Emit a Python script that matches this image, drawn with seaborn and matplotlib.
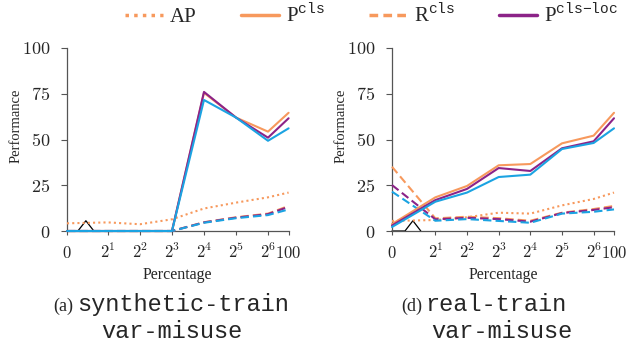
import numpy as np
import matplotlib
matplotlib.use("Agg")
import matplotlib.pyplot as plt
from matplotlib.lines import Line2D
import seaborn as sns

# percentages on the x axis (0 is drawn left of the axis break)
percent = [0, 2, 4, 8, 16, 32, 64, 100]
tick_labels = ["$0$", "$2^{1}$", "$2^{2}$", "$2^{3}$", "$2^{4}$", "$2^{5}$", "$2^{6}$", "$100$"]

# (a) synthetic-train var-misuse
ap_a = [4.2, 4.7, 3.7, 6.4, 12.3, 15.5, 18.4, 21.0]
p_cls_a = [0, 0, 0, 0, 75.5, 62.0, 54.3, 64.6]
r_cls_a = [0, 0, 0, 0, 4.8, 7.5, 9.5, 13.7]
p_loc_a = [0, 0, 0, 0, 76.0, 62.0, 51.0, 61.6]
r_loc_a = [0, 0, 0, 0, 4.7, 7.3, 9.2, 13.2]
# blue series (their legend entries are cut off in the original)
p_blue_a = [0, 0, 0, 0, 71.6, 62.0, 49.3, 56.1]
r_blue_a = [0, 0, 0, 0, 4.5, 7.0, 8.7, 11.8]

# (d) real-train var-misuse
ap_d = [5.5, 6.0, 7.5, 10.0, 9.5, 14.0, 17.5, 21.0]
p_cls_d = [3.8, 18.4, 24.6, 35.9, 36.6, 47.9, 52.1, 64.6]
r_cls_d = [35.1, 6.9, 7.8, 7.0, 5.6, 10.0, 12.0, 13.7]
p_loc_d = [3.0, 16.9, 23.0, 34.4, 32.8, 45.2, 49.0, 61.6]
r_loc_d = [25.1, 6.4, 7.2, 6.5, 5.1, 9.8, 11.5, 13.0]
p_blue_d = [2.2, 16.0, 21.0, 29.5, 30.8, 44.8, 48.1, 56.1]
r_blue_d = [21.5, 5.6, 6.5, 5.5, 4.5, 9.5, 10.5, 11.8]

ORANGE = "#F7995D"
PURPLE = "#8C2388"
BLUE = "#1BA3E2"
DOT = (0, (1, 1.5))
DASH = (0, (4, 2))

sns.set_style("ticks")
plt.rcParams["font.family"] = ["Liberation Serif", "DejaVu Serif"]
plt.rcParams["mathtext.fontset"] = "custom"
plt.rcParams["mathtext.rm"] = "cmr10"
plt.rcParams["mathtext.tt"] = "Liberation Mono"
plt.rcParams["axes.unicode_minus"] = False

fig = plt.figure(figsize=(6.27, 3.48), dpi=100)
W, H = 627, 348


def px_axes(x0, x1, y0, y1):
    return fig.add_axes([x0 / W, 1 - y1 / H, (x1 - x0) / W, (y1 - y0) / H])


ax_a = px_axes(67, 288.6, 48, 231)
ax_d = px_axes(392, 614, 48, 231)


def draw(ax, x_zero, brk, ap, p_cls, r_cls, p_loc, r_loc, p_blue, r_blue):
    xs = np.array([x_zero] + [np.log2(p) for p in percent[1:]])
    # axis break marker
    bx = [x_zero, x_zero + brk, x_zero + brk + 0.25, x_zero + brk + 0.5]
    ax.plot(bx, [0, 0, 5.6, 0], color="black", lw=0.9, clip_on=False, zorder=2)
    series = [
        (ap, ORANGE, DOT),
        (r_cls, ORANGE, DASH),
        (r_loc, PURPLE, DASH),
        (r_blue, BLUE, DASH),
        (p_cls, ORANGE, "-"),
        (p_loc, PURPLE, "-"),
        (p_blue, BLUE, "-"),
    ]
    for ys, col, ls in series:
        sns.lineplot(x=xs, y=ys, color=col, linestyle=ls, lw=1.5,
                     ax=ax, clip_on=False, zorder=3)
    ax.set_xlim(x_zero, np.log2(100))
    ax.set_ylim(0, 100)
    ax.set_xticks(xs)
    ax.set_xticklabels(tick_labels, fontsize=12)
    ax.set_yticks([0, 25, 50, 75, 100])
    ax.set_yticklabels(["$0$", "$25$", "$50$", "$75$", "$100$"], fontsize=13)
    plt.setp(ax.get_xticklabels(), va="baseline")
    ax.tick_params(axis="x", direction="out", length=3, width=0.8,
                   color="#555555", pad=16.5)
    ax.tick_params(axis="y", direction="out", length=4, width=0.8,
                   color="#555555", pad=8)
    sns.despine(ax=ax)
    for s in ("left", "bottom"):
        ax.spines[s].set_color("#555555")
        ax.spines[s].set_linewidth(0.9)
    ax.set_xlabel("Percentage", fontsize=11.5)
    ax.xaxis.set_label_coords(0.5, -0.195)
    ax.set_ylabel("Performance", fontsize=10.5)
    ax.yaxis.set_label_coords(-0.2, 0.575)


draw(ax_a, -0.28, 0.34, ap_a, p_cls_a, r_cls_a, p_loc_a, r_loc_a, p_blue_a, r_blue_a)
draw(ax_d, -0.37, 0.41, ap_d, p_cls_d, r_cls_d, p_loc_d, r_loc_d, p_blue_d, r_blue_d)

# legend across the top
handles = [
    Line2D([], [], color=ORANGE, lw=2.5, linestyle=DOT),
    Line2D([], [], color=ORANGE, lw=2.5, linestyle="-"),
    Line2D([], [], color=ORANGE, lw=2.5, linestyle=(0, (2.5, 1.5))),
    Line2D([], [], color=PURPLE, lw=2.5, linestyle="-"),
]
labels = ["AP", r"P$^{\mathtt{cls}}$", r"R$^{\mathtt{cls}}$", r"P$^{\mathtt{cls{-}loc}}$"]
fig.legend(handles, labels, loc="center left", bbox_to_anchor=(125 / W, 1 - 15 / H),
           ncol=4, frameon=False, fontsize=15, handlelength=1.83,
           handletextpad=0.34, columnspacing=2.1, borderaxespad=0, borderpad=0)

# captions
mono = "Liberation Mono"
fig.text(53 / W, 1 - 311 / H, "(a)", fontsize=13, va="baseline")
fig.text(77 / W, 1 - 311 / H, "synthetic-train", fontsize=17, family=mono, va="baseline")
fig.text(172 / W, 1 - 338 / H, "var-misuse", fontsize=17, family=mono, va="baseline", ha="center")
fig.text(401 / W, 1 - 311 / H, "(d)", fontsize=13, va="baseline")
fig.text(425 / W, 1 - 311 / H, "real-train", fontsize=17, family=mono, va="baseline")
fig.text(502 / W, 1 - 338 / H, "var-misuse", fontsize=17, family=mono, va="baseline", ha="center")

fig.savefig("out.png", dpi=100)
